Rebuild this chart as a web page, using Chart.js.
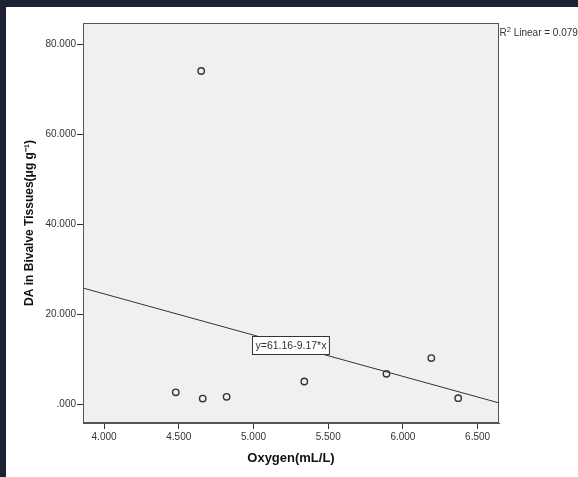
<!DOCTYPE html>
<html>
<head>
<meta charset="utf-8">
<script src="https://cdn.jsdelivr.net/npm/chart.js@4.4.1/dist/chart.umd.min.js"></script>
<style>
  html, body { margin: 0; padding: 0; background: #1b2232; }
  body { width: 578px; height: 477px; overflow: hidden; position: relative; }
  #wrap { position: absolute; left: 6px; top: 7px; width: 572px; height: 470px; background: #ffffff; }
  canvas { display: block; }
</style>
</head>
<body>
<div id="wrap"><canvas id="c" width="572" height="470"></canvas></div>
<script>
// Dissolved oxygen (mL/L) and domoic acid (DA) measured in bivalve tissue
const oxygen = [4.65, 4.48, 4.66, 4.82, 5.34, 5.89, 6.19, 6.37];
const daTissue = [74.0, 2.6, 1.2, 1.6, 5.0, 6.7, 10.2, 1.3];

// Linear fit reported for the scatter
const fitIntercept = 61.16;
const fitSlope = -9.17;
const fitR2 = 0.079;

// Axis ranges and tick values
const xRange = [3.859, 6.643];
const yRange = [-4.22, 84.67];
const xTicks = [4.0, 4.5, 5.0, 5.5, 6.0, 6.5];
const yTicks = [0, 20, 40, 60, 80];

const fmt = v => (Math.abs(v) < 1e-9 ? '.000' : v.toFixed(3));
const fitAt = x => fitIntercept + fitSlope * x;

const points = oxygen.map((x, i) => ({ x: x, y: daTissue[i] }));
const fitLine = xRange.map(x => ({ x: x, y: fitAt(x) }));

const ink = '#333333';
const font = "'Liberation Sans', Arial, sans-serif";

const decorations = {
  id: 'decorations',
  beforeDraw(chart) {
    const { ctx, chartArea: a } = chart;
    ctx.save();
    ctx.fillStyle = '#f0f0f0';
    ctx.fillRect(a.left, a.top, a.right - a.left, a.bottom - a.top);
    ctx.restore();
  },
  afterDraw(chart) {
    const { ctx, chartArea: a, scales } = chart;
    ctx.save();
    // frame around the plot area
    ctx.strokeStyle = '#555555';
    ctx.lineWidth = 1;
    ctx.strokeRect(Math.round(a.left) + 0.5, Math.round(a.top) + 0.5,
                   Math.round(a.right - a.left) - 1, Math.round(a.bottom - a.top) - 1);

    // equation label sitting on the fit line
    const ex = 5.25;
    const cx = scales.x.getPixelForValue(ex);
    const cy = scales.y.getPixelForValue(fitAt(ex));
    const label = 'y=' + fitIntercept.toFixed(2) + '-' + Math.abs(fitSlope).toFixed(2) + '*x';
    ctx.font = '10.5px ' + font;
    const tw = ctx.measureText(label).width;
    const bw = tw + 6, bh = 18;
    const bx = Math.round(cx - bw / 2) + 0.5, by = Math.round(cy - bh / 2) + 0.5;
    ctx.fillStyle = '#ffffff';
    ctx.fillRect(bx, by, bw, bh);
    ctx.strokeStyle = ink;
    ctx.strokeRect(bx, by, bw, bh);
    ctx.fillStyle = ink;
    ctx.textBaseline = 'middle';
    ctx.textAlign = 'left';
    ctx.fillText(label, bx + 3, by + bh / 2 + 0.5);

    // R² annotation at the top right corner
    let rx = a.right + 0.5;
    const base = 29;
    ctx.textBaseline = 'alphabetic';
    ctx.font = '10px ' + font;
    ctx.fillText('R', rx, base);
    rx += ctx.measureText('R').width;
    ctx.font = '7.5px ' + font;
    ctx.fillText('2', rx, base - 4);
    rx += ctx.measureText('2').width;
    ctx.font = '10px ' + font;
    ctx.fillText(' Linear = ' + fitR2.toFixed(3), rx, base);
    ctx.restore();
  }
};

new Chart(document.getElementById('c'), {
  type: 'scatter',
  data: {
    datasets: [
      {
        type: 'line',
        data: fitLine,
        borderColor: ink,
        borderWidth: 1,
        pointRadius: 0,
        fill: false,
        order: 2
      },
      {
        data: points,
        pointRadius: 3.2,
        pointBorderWidth: 1.4,
        pointBorderColor: ink,
        pointBackgroundColor: 'rgba(0,0,0,0)',
        order: 1
      }
    ]
  },
  options: {
    responsive: false,
    animation: false,
    devicePixelRatio: 1,
    layout: { padding: { top: 16, right: 79, left: 0, bottom: 0 } },
    plugins: { legend: { display: false }, tooltip: { enabled: false } },
    scales: {
      x: {
        type: 'linear',
        min: xRange[0],
        max: xRange[1],
        afterBuildTicks: s => { s.ticks = xTicks.map(v => ({ value: v })); },
        afterFit: s => { s.height = 54; },
        grid: { drawOnChartArea: false, drawTicks: true, tickLength: 6, color: ink },
        border: { display: true, color: '#555555' },
        ticks: {
          callback: v => fmt(v),
          color: ink,
          padding: 2,
          maxRotation: 0,
          autoSkip: false,
          font: { family: font, size: 10 }
        },
        title: {
          display: true,
          text: 'Oxygen(mL/L)',
          color: '#111111',
          padding: { top: 0, bottom: 11 },
          font: { family: font, size: 13, weight: 'bold' }
        }
      },
      y: {
        type: 'linear',
        min: yRange[0],
        max: yRange[1],
        afterBuildTicks: s => { s.ticks = yTicks.map(v => ({ value: v })); },
        afterFit: s => { s.width = 77; },
        grid: { drawOnChartArea: false, drawTicks: true, tickLength: 6, color: ink },
        border: { display: true, color: '#555555' },
        ticks: {
          callback: v => fmt(v),
          color: ink,
          padding: 1,
          autoSkip: false,
          font: { family: font, size: 10 }
        },
        title: {
          display: true,
          text: 'DA in Bivalve Tissues(μg g⁻¹)',
          color: '#111111',
          padding: { top: 16, bottom: 0 },
          font: { family: font, size: 12, weight: 'bold' }
        }
      }
    }
  },
  plugins: [decorations]
});
</script>
</body>
</html>
